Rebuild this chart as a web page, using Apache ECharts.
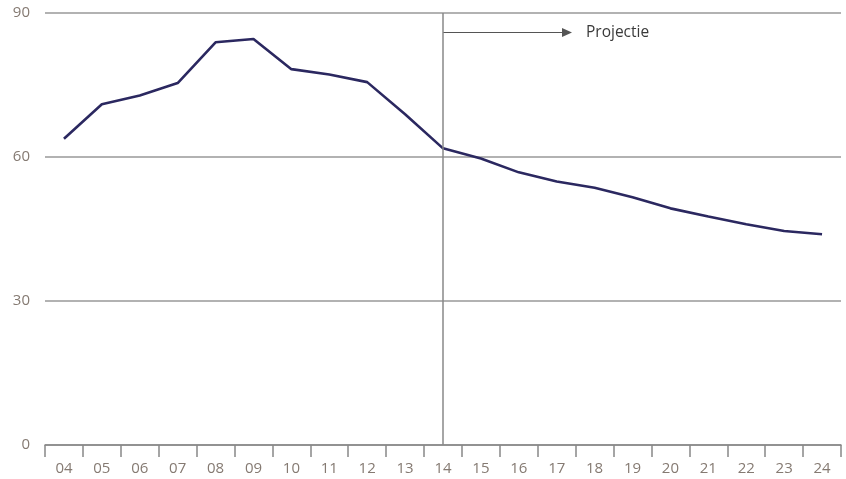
<!DOCTYPE html>
<html>
<head>
<meta charset="utf-8">
<script src="https://cdn.jsdelivr.net/npm/echarts@6/dist/echarts.min.js"></script>
<style>
html,body{margin:0;padding:0;background:#fff;}
#chart{width:846px;height:479px;}
</style>
</head>
<body>
<div id="chart"></div>
<script>
const categories = ['04','05','06','07','08','09','10','11','12','13','14','15','16','17','18','19','20','21','22','23','24'];
const values = [63.8, 71.0, 72.8, 75.4, 83.9, 84.6, 78.3, 77.2, 75.6, 68.9, 61.8, 59.7, 56.8, 54.9, 53.6, 51.6, 49.3, 47.6, 46.0, 44.6, 43.9];
const yTicks = [0, 30, 60, 90];
const projectionStart = '14';
const projectionLabel = 'Projectie';
const arrowValue = 86;

const chart = echarts.init(document.getElementById('chart'));
const labelColor = '#857a72';
chart.setOption({
  animation: false,
  grid: {left: 45, right: 5, top: 13, bottom: 34},
  xAxis: {
    type: 'category',
    data: categories,
    boundaryGap: true,
    axisLine: {lineStyle: {color: '#888', width: 1.5}},
    axisTick: {show: true, length: 12, interval: 0, lineStyle: {color: '#888', width: 1.5}},
    axisLabel: {color: labelColor, fontFamily: 'Open Sans', fontSize: 15, margin: 16, interval: 0}
  },
  yAxis: {
    type: 'value',
    min: yTicks[0],
    max: yTicks[yTicks.length - 1],
    interval: 30,
    axisLine: {show: false},
    axisTick: {show: false},
    splitLine: {lineStyle: {color: '#999', width: 1.5}},
    axisLabel: {color: labelColor, fontFamily: 'Open Sans', fontSize: 15, margin: 15}
  },
  series: [{
    type: 'line',
    data: values,
    symbol: 'none',
    lineStyle: {color: '#2b2860', width: 2.6},
    markLine: {
      silent: true,
      symbol: 'none',
      label: {show: false},
      lineStyle: {color: '#888', width: 1.5, type: 'solid'},
      data: [{xAxis: projectionStart}]
    }
  }]
});

const p = chart.convertToPixel({xAxisIndex: 0, yAxisIndex: 0}, [projectionStart, arrowValue]);
const x0 = p[0], y0 = Math.round(p[1]) + 0.5;
const x1 = x0 + 129;
chart.setOption({
  graphic: [
    {type: 'line', shape: {x1: x0, y1: y0, x2: x1 - 8, y2: y0}, style: {stroke: '#555', lineWidth: 1.2}, silent: true},
    {type: 'polygon', shape: {points: [[x1, y0], [x1 - 10, y0 - 4.5], [x1 - 10, y0 + 4.5]]}, style: {fill: '#555'}, silent: true},
    {type: 'text', x: x1 + 14, y: y0, style: {text: projectionLabel, fill: '#3a3a3a', font: '15.5px "Open Sans"', textVerticalAlign: 'middle'}, silent: true}
  ]
});
</script>
</body>
</html>
